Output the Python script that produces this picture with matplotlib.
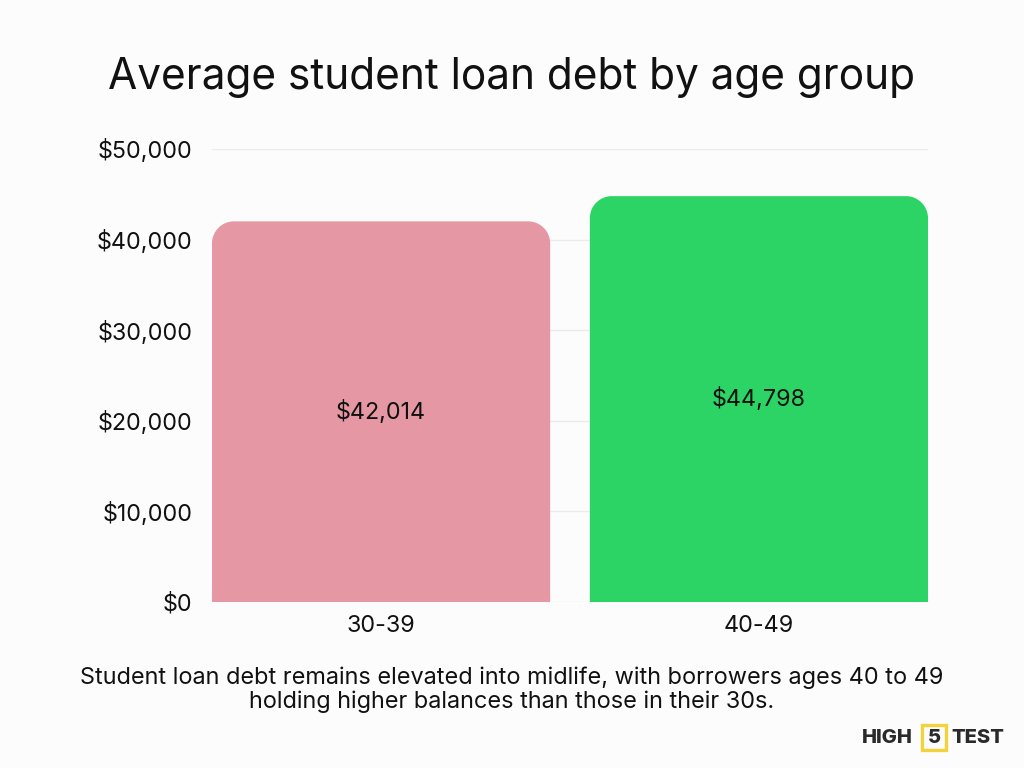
import matplotlib
matplotlib.use("Agg")
import matplotlib.pyplot as plt
from matplotlib.path import Path
from matplotlib.patches import PathPatch, Rectangle
from matplotlib.ticker import FuncFormatter

categories = ["30-39", "40-49"]
values = [42014, 44798]
colors = ["#E598A4", "#2BD464"]
yticks = [0, 10000, 20000, 30000, 40000, 50000]

FONT = ["Inter", "DejaVu Sans"]
plt.rcParams['font.family'] = FONT
BG = "#FCFCFC"

fig = plt.figure(figsize=(10.24, 7.68), dpi=100, facecolor=BG)
ax = fig.add_axes([212/1024, 1-602/768, (928-212)/1024, (602-149)/768], facecolor=BG)

xs = list(range(len(categories)))
width = 0.895
ax.set_xlim(-width/2, len(categories) - 1 + width/2)
ax.set_ylim(0, 50000)

px_x = (928-212) / (ax.get_xlim()[1] - ax.get_xlim()[0])
px_y = (602-149) / 50000
r_px = 22
rx = r_px / px_x
ry = r_px / px_y
k = 0.5523

def top_rounded(x0, x1, h):
    verts = [
        (x0, 0), (x0, h - ry),
        (x0, h - ry + k*ry), (x0 + rx - k*rx, h), (x0 + rx, h),
        (x1 - rx, h),
        (x1 - rx + k*rx, h), (x1, h - ry + k*ry), (x1, h - ry),
        (x1, 0), (x0, 0),
    ]
    codes = [Path.MOVETO, Path.LINETO,
             Path.CURVE4, Path.CURVE4, Path.CURVE4,
             Path.LINETO,
             Path.CURVE4, Path.CURVE4, Path.CURVE4,
             Path.LINETO, Path.CLOSEPOLY]
    return Path(verts, codes)

for x, v, c in zip(xs, values, colors):
    p = PathPatch(top_rounded(x - width/2, x + width/2, v), facecolor=c,
                  edgecolor="none", zorder=3)
    ax.add_patch(p)
    ax.text(x, v/2, f"${v:,}", ha="center", va="center", fontsize=16.8,
            color="#111111", zorder=4)

ax.set_yticks(yticks)
ax.yaxis.set_major_formatter(FuncFormatter(lambda v, p: f"${int(v):,}"))
ax.set_xticks(xs)
ax.set_xticklabels(categories)
ax.tick_params(axis="both", length=0, labelsize=16.8, colors="#111111")
ax.tick_params(axis="y", pad=14)
ax.tick_params(axis="x", pad=9)
ax.grid(axis="y", color="#EBEBEB", linewidth=1, zorder=0)
for s in ax.spines.values():
    s.set_visible(False)

fig.text(0.5, 1-78/768, "Average student loan debt by age group", ha="center",
         va="center", fontsize=30.5, color="#111111")
fig.text(0.5, 1-690/768,
         "Student loan debt remains elevated into midlife, with borrowers ages 40 to 49\n"
         "holding higher balances than those in their 30s.",
         ha="center", va="center", fontsize=16.9, color="#111111", linespacing=1.1)

# logo
ly = 1 - 738/768
fig.text(862/1024, ly, "HIGH", ha="left", va="center", fontsize=14.5,
         fontweight="heavy", color="#2A2A2A")
fig.text(1004/1024, ly, "TEST", ha="right", va="center", fontsize=14.5,
         fontweight="heavy", color="#2A2A2A")
fig.text(934/1024, ly, "5", ha="center", va="center", fontsize=14.5,
         fontweight="heavy", color="#2A2A2A")
box = Rectangle((922/1024, 1-750/768), 24/1024, 25/768,
                transform=fig.transFigure, facecolor="none",
                edgecolor="#F2D33B", linewidth=2.4)
fig.patches.append(box)

fig.savefig("out.png", dpi=100, facecolor=BG)
